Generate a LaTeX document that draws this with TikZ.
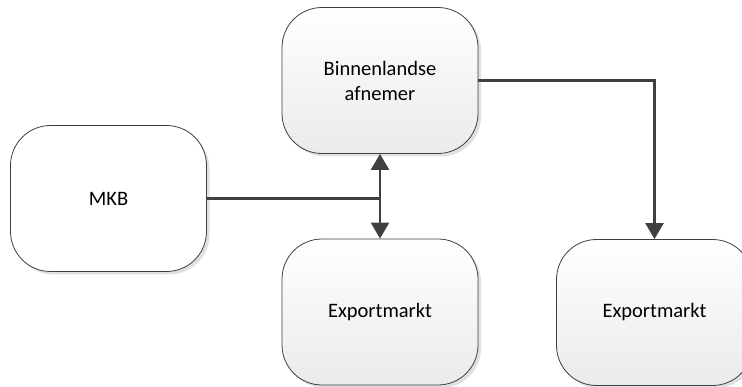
\documentclass[tikz,border=0pt]{standalone}
\usepackage{fontspec}
\setmainfont{Carlito}
\usetikzlibrary{arrows.meta,shadows}
\tikzset{
  box/.style={draw=black!75, line width=0.8pt, rounded corners=40pt,
    minimum width=196pt, minimum height=146pt, align=center,
    font=\fontsize{20.5}{25}\selectfont,
    drop shadow={shadow xshift=3pt, shadow yshift=-3pt, fill=black!12, opacity=1}},
  grey/.style={box, top color=white, bottom color=black!8},
  white/.style={box, fill=white},
  conn/.style={draw=black!75, line width=2.6pt},
  arr/.style={conn, -{Triangle[length=16pt,width=18pt]}}
}
\begin{document}
\begin{tikzpicture}[x=1pt,y=-1pt]
\useasboundingbox (0,0) rectangle (742,387);
\clip (0,0) rectangle (742,387);
\node[grey]  (bin)  at (380,80.5) {Binnenlandse\\afnemer};
\node[grey]  (exp1) at (380,312) {Exportmarkt};
\node[white] (mkb)  at (108.5,198.5) {MKB};
\node[grey]  (exp2) at (654.5,312.5) {Exportmarkt};
\coordinate (j) at (mkb.east -| bin.south);
\draw[conn] (mkb.east) -- (j);
\draw[arr] (j) -- (bin.south);
\draw[arr] (j) -- (exp1.north);
\draw[arr] (bin.east) -| (exp2.north);
\end{tikzpicture}
\end{document}
